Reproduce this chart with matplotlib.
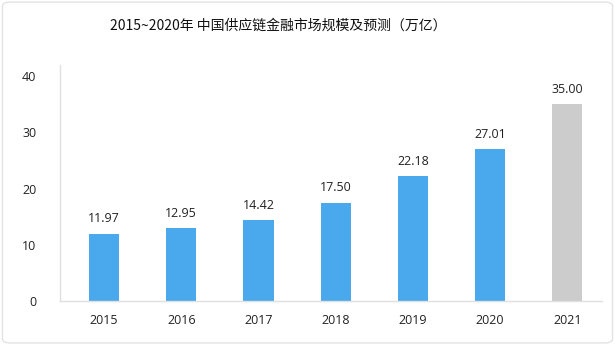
import matplotlib
matplotlib.use("Agg")
import matplotlib.pyplot as plt
from matplotlib.patches import FancyBboxPatch

plt.rcParams['font.family'] = ['Open Sans', 'Noto Sans CJK SC', 'DejaVu Sans']

years = ["2015", "2016", "2017", "2018", "2019", "2020", "2021"]
values = [11.97, 12.95, 14.42, 17.50, 22.18, 27.01, 35.00]
bar_colors = ["#4aa8ec"] * 6 + ["#cccccc"]
yticks = [0, 10, 20, 30, 40]
title = "2015~2020年 中国供应链金融市场规模及预测（万亿）"

fig = plt.figure(figsize=(6.15, 3.45), dpi=100)

# rounded card border behind everything
card = FancyBboxPatch((0.004, 0.006), 0.992, 0.988,
                      boxstyle="round,pad=0,rounding_size=0.012",
                      transform=fig.transFigure, facecolor="white",
                      edgecolor="#e3e3e3", linewidth=1.0, zorder=-5)
fig.patches.append(card)

ax = fig.add_axes([0.0976, 0.1275, 0.8814, 0.684])
ax.set_zorder(2)
ax.set_facecolor("none")
x = list(range(len(years)))
ax.bar(x, values, width=0.39, color=bar_colors, zorder=2)

for xi, v in zip(x, values):
    ax.annotate(f"{v:.2f}", (xi, v), xytext=(0, 6), textcoords="offset points",
                ha="center", va="bottom", fontsize=9, color="#222222")

ax.set_xlim(-0.57, 6.45)
ax.set_ylim(0, 42)
ax.set_yticks(yticks)
ax.set_yticklabels([str(t) for t in yticks])
ax.set_xticks(x)
ax.set_xticklabels(years)
ax.tick_params(axis="both", length=0, labelsize=9, colors="#222222")
ax.tick_params(axis="y", pad=17)
ax.tick_params(axis="x", pad=9)

for side in ("top", "right"):
    ax.spines[side].set_visible(False)
for side in ("left", "bottom"):
    ax.spines[side].set_color("#e0e0e0")
    ax.spines[side].set_linewidth(1.0)

fig.text(0.452, 0.927, title, ha="center", va="center", fontsize=10,
         color="#111111", family=['Noto Sans CJK SC', 'DejaVu Sans'])

fig.savefig("out.png", dpi=100)
